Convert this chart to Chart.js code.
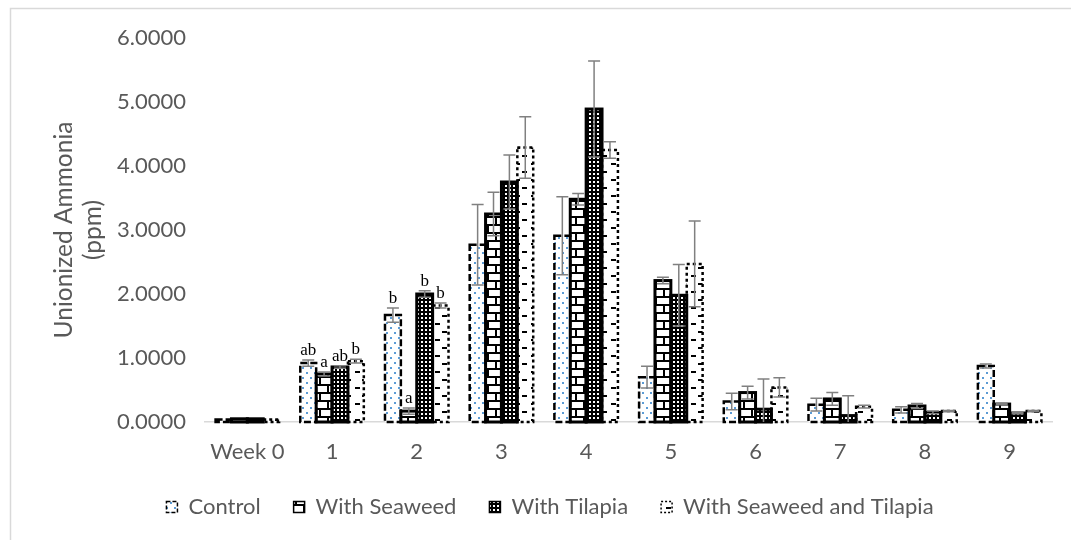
<!DOCTYPE html>
<html>
<head>
<meta charset="utf-8">
<script src="https://cdn.jsdelivr.net/npm/chart.js@4.4.1/dist/chart.umd.min.js"></script>
<style>
  html, body { margin: 0; padding: 0; background: #ffffff; }
  #wrap { width: 1071px; height: 540px; }
</style>
</head>
<body>
<div id="wrap"><canvas id="chart" width="1071" height="540"></canvas></div>
<script>
// Weekly unionized ammonia (ppm) per treatment, with standard deviations
const weeks = ["Week 0", "1", "2", "3", "4", "5", "6", "7", "8", "9"];
const yTicks = [0, 1, 2, 3, 4, 5, 6];

const control      = [0.04, 0.92, 1.67, 2.77, 2.91, 0.70, 0.32, 0.27, 0.19, 0.875];
const controlSd    = [0.00, 0.05, 0.11, 0.63, 0.61, 0.17, 0.13, 0.10, 0.05, 0.03];
const seaweed      = [0.05, 0.75, 0.17, 3.25, 3.48, 2.21, 0.46, 0.36, 0.25, 0.28];
const seaweedSd    = [0.00, 0.03, 0.05, 0.34, 0.09, 0.05, 0.10, 0.10, 0.04, 0.01];
const tilapia      = [0.05, 0.86, 2.00, 3.75, 4.89, 1.98, 0.20, 0.10, 0.15, 0.14];
const tilapiaSd    = [0.00, 0.02, 0.05, 0.42, 0.75, 0.48, 0.47, 0.31, 0.02, 0.01];
const both         = [0.04, 0.95, 1.82, 4.29, 4.25, 2.47, 0.54, 0.24, 0.17, 0.17];
const bothSd       = [0.00, 0.03, 0.04, 0.48, 0.13, 0.67, 0.15, 0.02, 0.01, 0.01];

// Significance letters (weeks 1 and 2)
const controlLetters = ["", "ab", "b", "", "", "", "", "", "", ""];
const seaweedLetters = ["", "a",  "a", "", "", "", "", "", "", ""];
const tilapiaLetters = ["", "ab", "b", "", "", "", "", "", "", ""];
const bothLetters    = ["", "b",  "b", "", "", "", "", "", "", ""];

const FONT = "Lato";
const TEXT = "#595959";

function tile(w, h, paint) {
  const c = document.createElement("canvas");
  c.width = w; c.height = h;
  const g = c.getContext("2d");
  paint(g);
  return g.createPattern(c, "repeat");
}

// light blue dots on white
const dotFill = tile(8, 10, g => {
  g.fillStyle = "#ffffff"; g.fillRect(0, 0, 8, 10);
  g.fillStyle = "#5b9bd5";
  g.fillRect(2, 2, 2, 2);
  g.fillRect(6, 7, 2, 2);
});
// brick
const brickFill = tile(16, 16, g => {
  g.fillStyle = "#ffffff"; g.fillRect(0, 0, 16, 16);
  g.fillStyle = "#000000";
  g.fillRect(0, 0, 16, 2);
  g.fillRect(0, 8, 16, 2);
  g.fillRect(7, 2, 2, 6);
  g.fillRect(0, 10, 1, 6);
  g.fillRect(15, 10, 1, 6);
});
// dark grid with white cells
const gridFill = tile(4, 4, g => {
  g.fillStyle = "#000000"; g.fillRect(0, 0, 4, 4);
  g.fillStyle = "#ffffff";
  g.fillRect(1, 1, 2, 2);
});
// short horizontal dashes
const dashFill = tile(16, 16, g => {
  g.fillStyle = "#ffffff"; g.fillRect(0, 0, 16, 16);
  g.fillStyle = "#000000";
  g.fillRect(3, 3, 5, 2);
  g.fillRect(10, 11, 5, 2);
});

const datasets = [
  { label: "Control", data: control, sd: controlSd, letters: controlLetters,
    backgroundColor: dotFill, borderColor: "#000000", borderDash: [7, 3], outline: 2.5, legendDash: [4, 2] },
  { label: "With Seaweed", data: seaweed, sd: seaweedSd, letters: seaweedLetters,
    backgroundColor: brickFill, borderColor: "#000000", borderDash: [], outline: 3, legendDash: [] },
  { label: "With Tilapia", data: tilapia, sd: tilapiaSd, letters: tilapiaLetters,
    backgroundColor: gridFill, borderColor: "#000000", borderDash: [], outline: 3, legendDash: [] },
  { label: "With Seaweed and Tilapia", data: both, sd: bothSd, letters: bothLetters,
    backgroundColor: dashFill, borderColor: "#000000", borderDash: [3, 3], outline: 2.5, legendDash: [2, 2] }
].map(d => Object.assign(d, { borderWidth: 0, categoryPercentage: 0.75, barPercentage: 1.0 }));

// frame, bar outlines, error bars and letters
const decorations = {
  id: "decorations",
  beforeDraw(chart) {
    const ctx = chart.ctx;
    ctx.save();
    ctx.fillStyle = "#ffffff";
    ctx.fillRect(0, 0, chart.width, chart.height);
    ctx.strokeStyle = "#d9d9d9";
    ctx.lineWidth = 1.5;
    ctx.strokeRect(10.5, 8.5, chart.width + 40, chart.height + 40);
    ctx.restore();
  },
  afterDatasetsDraw(chart) {
    const ctx = chart.ctx;
    const yS = chart.scales.y;
    const area = chart.chartArea;
    chart.data.datasets.forEach((ds, i) => {
      chart.getDatasetMeta(i).data.forEach(el => {
        const { x, y, base, width } = el.getProps(["x", "y", "base", "width"], true);
        ctx.save();
        ctx.strokeStyle = ds.borderColor;
        ctx.lineWidth = ds.outline;
        ctx.setLineDash(ds.borderDash);
        ctx.strokeRect(x - width / 2, y, width, base - y);
        ctx.restore();
      });
    });
    chart.data.datasets.forEach((ds, i) => {
      chart.getDatasetMeta(i).data.forEach((el, j) => {
        const { x } = el.getProps(["x"], true);
        const v = ds.data[j], e = ds.sd[j];
        const top = yS.getPixelForValue(v + e);
        if (e > 0) {
          const bot = yS.getPixelForValue(v - e);
          ctx.save();
          ctx.beginPath();
          ctx.rect(area.left, area.top - 20, area.right - area.left, area.bottom - area.top + 20);
          ctx.clip();
          ctx.strokeStyle = "#808080";
          ctx.lineWidth = 1.5;
          ctx.beginPath();
          ctx.moveTo(x, top); ctx.lineTo(x, bot);
          ctx.moveTo(x - 6, top); ctx.lineTo(x + 6, top);
          ctx.moveTo(x - 6, bot); ctx.lineTo(x + 6, bot);
          ctx.stroke();
          ctx.restore();
        }
        const t = ds.letters[j];
        if (t) {
          ctx.save();
          ctx.fillStyle = "#000000";
          ctx.font = "17px 'Liberation Serif'";
          ctx.textAlign = "center";
          ctx.textBaseline = "alphabetic";
          ctx.fillText(t, x, top - 5);
          ctx.restore();
        }
      });
    });
  }
};

new Chart(document.getElementById("chart"), {
  type: "bar",
  data: { labels: weeks, datasets },
  plugins: [decorations],
  options: {
    responsive: false,
    animation: false,
    devicePixelRatio: 1,
    layout: { padding: { left: 48, right: 19, top: 38, bottom: 12 } },
    plugins: {
      tooltip: { enabled: false },
      legend: {
        position: "bottom",
        labels: {
          color: TEXT,
          font: { family: FONT, size: 22 },
          boxWidth: 11,
          boxHeight: 11,
          padding: 33,
          generateLabels(chart) {
            return chart.data.datasets.map((ds, i) => ({
              text: ds.label,
              fillStyle: ds.backgroundColor,
              strokeStyle: "#000000",
              lineWidth: 1.5,
              lineDash: ds.legendDash,
              fontColor: TEXT,
              hidden: false,
              datasetIndex: i
            }));
          }
        }
      }
    },
    scales: {
      x: {
        grid: { display: false, drawTicks: false },
        border: { display: true, color: "#d9d9d9", width: 1.5 },
        ticks: { color: TEXT, font: { family: FONT, size: 22, lineHeight: 1 }, padding: 19, maxRotation: 0 },
        afterFit(scale) { scale.height = 41; }
      },
      y: {
        min: 0, max: 6,
        grid: { display: false, drawTicks: false },
        border: { display: false },
        afterBuildTicks(scale) { scale.ticks = yTicks.map(v => ({ value: v })); },
        ticks: { color: TEXT, font: { family: FONT, size: 22 }, padding: 19,
                 callback: v => Number(v).toFixed(4) },
        title: { display: true, text: ["Unionized Ammonia", "(ppm)"], color: TEXT,
                 font: { family: FONT, size: 24.5 }, padding: { top: 1, bottom: 0 } },
        afterFit(scale) { scale.width = 157; }
      }
    }
  }
});
</script>
</body>
</html>
